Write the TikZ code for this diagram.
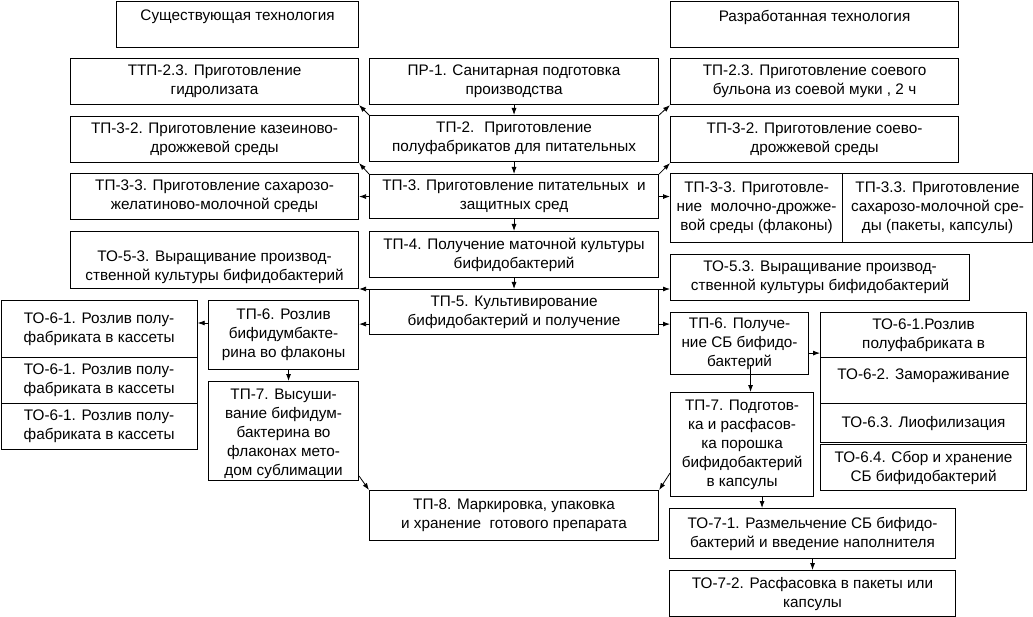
\documentclass[tikz,border=0pt]{standalone}
\usepackage{fontspec}
\setmainfont{Liberation Sans}
\usetikzlibrary{arrows.meta,calc}
\begin{document}
\begin{tikzpicture}[x=1pt,y=-1pt,
  box/.style={draw, line width=1.1pt, inner sep=0pt, align=center, anchor=north west,
    font=\fontsize{15.3pt}{19pt}\selectfont},
  sz/.style 2 args={minimum width=#1pt, minimum height=#2pt},
  arr/.style={line width=0.8pt, -{Latex[length=7pt,width=5pt]}}]
\useasboundingbox (0,0) rectangle (1033,617);
% headers
\node[box,sz={242}{46},text depth=17pt] (hl) at (116,0.6) {Существующая технология};
\node[box,sz={288}{46},text depth=17pt] (hr) at (670,0.6) {Разработанная технология};
% row 1
\node[box,sz={288}{46}] (ttp) at (70,58) {ТТП-2.3. Приготовление\\гидролизата};
\node[box,sz={289}{46}] (pr1) at (369,58) {ПР-1. Санитарная подготовка\\производства};
\node[box,sz={288}{46}] (tp23) at (670,58) {ТП-2.3. Приготовление соевого\\бульона из соевой муки , 2 ч};
% row 2
\node[box,sz={288}{46}] (tp32l) at (70,116) {ТП-3-2. Приготовление казеиново-\\дрожжевой среды};
\node[box,sz={289}{46}] (tp2) at (369,115) {ТП-2.~ Приготовление\\полуфабрикатов для питательных};
\node[box,sz={288}{46}] (tp32r) at (670,116) {ТП-3-2. Приготовление соево-\\дрожжевой среды};
% row 3
\node[box,sz={288}{46}] (tp33l) at (70,173) {ТП-3-3. Приготовление сахарозо-\\желатиново-молочной среды};
\node[box,sz={289}{44}] (tp3) at (369,174) {ТП-3. Приготовление питательных~ и\\защитных сред};
\node[box,sz={172}{69}] (tp33a) at (670,173) {ТП-3-3. Приготовле-\\ние~ молочно-дрожже-\\вой среды (флаконы)};
\node[box,sz={190}{69}] (tp33b) at (842,173) {ТП-3.3. Приготовление\\сахарозо-молочной сре-\\ды (пакеты, капсулы)};
% row 4
\node[box,sz={288}{57}] (to53l) at (70,231) {\rule{0pt}{25pt}ТО-5-3. Выращивание производ-\\ственной культуры бифидобактерий};
\node[box,sz={289}{46}] (tp4) at (369,231) {ТП-4. Получение маточной культуры\\бифидобактерий};
\node[box,sz={299}{46}] (to53r) at (670,254) {ТО-5.3. Выращивание производ-\\ственной культуры бифидобактерий};
% row 5
\node[box,sz={289}{45}] (tp5) at (369,289) {ТП-5. Культивирование\\бифидобактерий и получение};
\node[box,sz={196}{57}] (s1) at (0.6,300) {ТО-6-1. Розлив полу-\\фабриката в кассеты};
\node[box,sz={196}{46}] (s2) at (0.6,357) {ТО-6-1. Розлив полу-\\фабриката в кассеты};
\node[box,sz={196}{46}] (s3) at (0.6,403) {ТО-6-1. Розлив полу-\\фабриката в кассеты};
\node[box,sz={150}{69}] (tp6l) at (208,300) {ТП-6. Розлив\\бифидумбакте-\\рина во флаконы};
\node[box,sz={150}{99}] (tp7l) at (208,381) {\rule{0pt}{16pt}ТП-7. Высуши-\\вание бифидум-\\бактерина во\\флаконах мето-\\дом сублимации};
\node[box,sz={138}{62}] (tp6r) at (670,312) {ТП-6. Получе-\\ние СБ бифидо-\\бактерий};
\node[box,sz={206}{45}] (r1) at (820,312) {ТО-6-1.Розлив\\полуфабриката в};
\node[box,sz={206}{46},text depth=13pt] (r2) at (820,357) {ТО-6-2. Замораживание};
\node[box,sz={206}{39}] (r3) at (820,403) {ТО-6.3. Лиофилизация};
\node[box,sz={206}{46}] (r4) at (820,444) {ТО-6.4. Сбор и хранение\\СБ бифидобактерий};
\node[box,sz={143}{104}] (tp7r) at (670,392) {ТП-7. Подготов-\\ка и расфасов-\\ка порошка\\бифидобактерий\\в капсулы};
\node[box,sz={289}{50}] (tp8) at (369,490) {ТП-8. Маркировка, упаковка\\и хранение~ готового препарата};
\node[box,sz={286}{50}] (to71) at (669,508) {ТО-7-1. Размельчение СБ бифидо-\\бактерий и введение наполнителя};
\node[box,sz={286}{46.4}] (to72) at (669,570) {ТО-7-2. Расфасовка в пакеты или\\капсулы};
% connectors
\draw[arr] (pr1.south) -- (tp2.north);
\draw[arr] (tp2.north west) -- (ttp.south east);
\draw[arr] (tp2.north east) -- (tp23.south west);
\draw[arr] (tp2.south) -- (tp3.north);
\draw[arr] (tp3.north west) -- (tp32l.south east);
\draw[arr] (tp3.north east) -- (tp32r.south west);
\draw[arr] (tp3.west) -- (tp3.west -| tp33l.east);
\draw[arr] (tp3.east) -- (tp3.east -| tp33a.west);
\draw[arr] (tp3.south) -- (tp4.north);
\draw[arr] (tp4.south) -- (tp5.north);
\draw[arr] (tp5.north west) -- (tp5.north west -| to53l.east);
\draw[arr] (tp5.north east) -- (tp5.north east -| to53r.west);
\coordinate (l5) at ([yshift=11pt]tp5.south west);
\coordinate (r5) at ([yshift=11pt]tp5.south east);
\draw[arr] (l5) -- (l5 -| tp6l.east);
\draw[arr] (r5) -- (r5 -| tp6r.west);
\coordinate (l6) at ([yshift=-23pt]tp6l.north west);
\draw[arr] (l6) -- (l6 -| s1.east);
\coordinate (d6l) at ([xshift=5pt]tp6l.south);
\draw[arr] (d6l) -- (d6l |- tp7l.north);
\draw[arr] ([yshift=5pt]tp7l.south east) -- (tp8.north west);
\draw[arr] ([yshift=24pt]tp7r.south west) -- (tp8.north east);
\coordinate (r6) at ([yshift=22pt]tp6r.south east);
\draw[arr] (r6) -- (r6 -| r1.west);
\coordinate (d6) at ([xshift=11pt,yshift=10pt]tp6r.south);
\draw[arr] (d6) -- (d6 |- tp7r.north);
\coordinate (d7) at ([xshift=20pt]tp7r.south);
\draw[arr] (d7) -- (d7 |- to71.north);
\draw[arr] (to71.south) -- (to72.north);
\end{tikzpicture}
\end{document}
